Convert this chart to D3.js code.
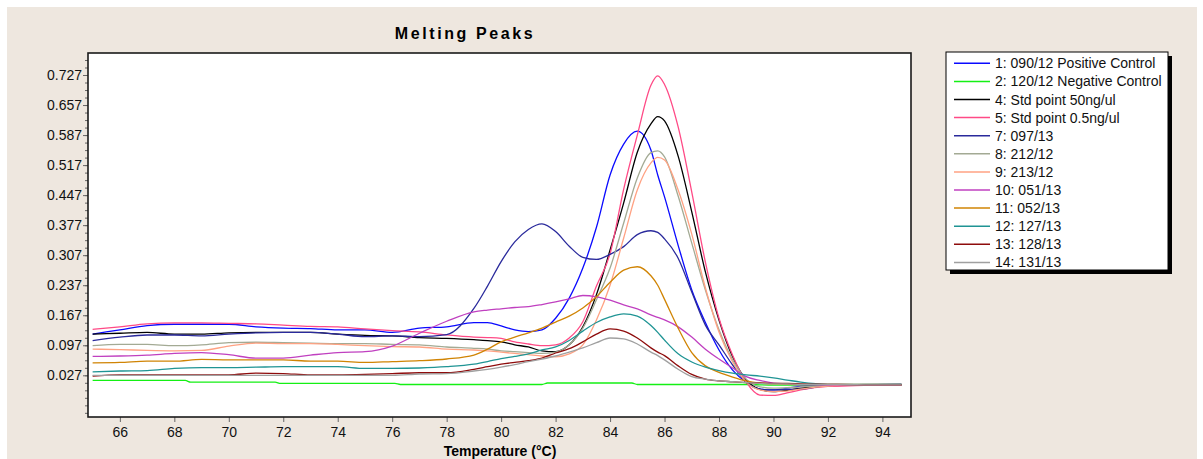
<!DOCTYPE html>
<html>
<head>
<meta charset="utf-8">
<script src="https://d3js.org/d3.v7.min.js"></script>
<style>
  body { margin: 0; background: #fff; font-family: 'Liberation Sans', Arial, sans-serif; }
</style>
</head>
<body>
<div class="middle"></div>
<script>
// temperatures shared by the sample curves
const temps = [65, 66, 67, 68, 69, 70, 71, 72, 73, 74, 75, 76, 77, 78,
  79, 79.5, 80, 80.5, 81, 81.5, 82, 82.5, 83, 83.5, 84, 84.5, 85, 85.5,
  85.75, 86, 86.5, 87, 87.5, 88, 88.5, 89, 89.5, 90, 90.5,
  91, 92, 93, 94.7]

const posControl = [.123, .133, .143, .146, .146, .146, .140, .137, .136, .133, .133, .127, .137, .140,
  .150, .150, .142, .133, .129, .133, .160, .207, .277, .372, .494, .566, .596, .552,
  .494, .443, .330, .226, .150, .086, .039, .011, -.005, -.007, -.003,
  .002, .0045, .005, .0056]

// negative control is a stepped line, it has its own temperatures
const negTemps = [65, 68.4, 68.6, 71.7, 71.9, 76.1, 76.3, 81.5, 81.7, 84.8, 85.0, 89.0, 90.0, 94.7]
const negControl = [.015, .015, .011, .011, .008, .008, .0056, .0056, .009, .009, .0056, .0056, .004, .004]

const std50 = [.123, .125, .127, .123, .123, .126, .127, .127, .127, .123, .120, .119, .115, .113,
  .110, .108, .105, .098, .093, .084, .082, .098, .140, .215, .319, .429, .547, .613,
  .630, .620, .538, .408, .268, .156, .070, .016, -.006, -.011, -.008,
  -.003, .002, .004, .0045]

const std05 = [.134, .140, .147, .149, .149, .148, .147, .144, .141, .140, .135, .131, .128, .121,
  .116, .115, .113, .105, .100, .096, .098, .114, .152, .235, .310, .461, .587, .703,
  .725, .705, .606, .454, .291, .160, .074, .011, -.019, -.020, -.014,
  -.007, .001, .003, .0045]

const s097_13 = [.108, .116, .121, .121, .119, .123, .126, .127, .127, .123, .117, .119, .117, .122,
  .183, .235, .292, .338, .367, .380, .362, .328, .302, .297, .309, .327, .355, .364,
  .360, .345, .300, .221, .144, .098, .051, .011, -.005, -.007, -.006,
  -.005, .003, .005, .006]

const s212_12 = [.096, .099, .099, .096, .098, .103, .104, .103, .102, .101, .101, .099, .098, .093,
  .090, .088, .084, .082, .080, .078, .081, .098, .137, .203, .277, .382, .487, .546,
  .550, .536, .445, .335, .226, .133, .063, .018, .000, -.003, -.002,
  .000, .003, .005, .0056]

const s213_12 = [.088, .087, .085, .084, .085, .095, .102, .101, .101, .099, .096, .094, .093, .088,
  .086, .084, .081, .078, .075, .072, .070, .077, .098, .156, .237, .347, .459, .522,
  .535, .529, .459, .356, .231, .128, .058, .011, -.007, -.011, -.010,
  -.005, .002, .004, .0045]

const s051_13 = [.071, .072, .074, .078, .080, .075, .067, .067, .074, .080, .082, .095, .125, .153,
  .175, .179, .182, .185, .187, .192, .198, .205, .213, .210, .202, .191, .182, .168,
  .162, .156, .140, .116, .088, .065, .044, .024, .015, .009, .007,
  .0045, .0045, .0045, .0045]

const s052_13 = [.056, .057, .060, .060, .064, .063, .063, .063, .060, .060, .057, .059, .061, .065,
  .074, .088, .105, .116, .126, .137, .151, .165, .184, .210, .244, .272, .280, .259,
  .237, .204, .137, .080, .049, .034, .023, .014, .009, .007, .007,
  .006, .006, .006, .006]

const s127_13 = [.035, .037, .038, .043, .045, .045, .046, .047, .047, .047, .043, .043, .044, .047,
  .053, .059, .066, .071, .077, .086, .093, .108, .130, .150, .163, .170, .165, .143,
  .127, .109, .077, .058, .046, .038, .032, .028, .025, .021, .016,
  .011, .006, .006, .006]

const s128_13 = [.025, .028, .028, .028, .028, .028, .032, .031, .028, .028, .029, .031, .033, .033,
  .041, .047, .053, .057, .061, .067, .079, .089, .105, .123, .135, .130, .114, .091,
  .081, .073, .049, .029, .018, .014, .012, .010, .009, .008, .008,
  .007, .006, .005, .0045]

const s131_13 = [.027, .027, .027, .027, .027, .027, .027, .027, .027, .027, .027, .027, .030, .031,
  .037, .041, .046, .052, .059, .065, .072, .081, .091, .103, .114, .112, .100, .081,
  .073, .063, .041, .024, .018, .014, .012, .010, .008, .007, .007,
  .006, .006, .005, .0045]

const seriesNames = ['1: 090/12 Positive Control', '2: 120/12 Negative Control', '4: Std point 50ng/ul',
  '5: Std point 0.5ng/ul', '7: 097/13', '8: 212/12', '9: 213/12', '10: 051/13', '11: 052/13',
  '12: 127/13', '13: 128/13', '14: 131/13']
const seriesValues = [posControl, negControl, std50, std05, s097_13, s212_12, s213_12,
  s051_13, s052_13, s127_13, s128_13, s131_13]
const seriesTemps = [temps, negTemps, temps, temps, temps, temps, temps, temps, temps, temps, temps, temps]
const colors = ['#0a0aff', '#14f014', '#000000', '#ff4a86', '#2a2a9c', '#a3aa94', '#ffa283',
  '#c040c0', '#d08404', '#1f9494', '#8e0c0c', '#a0a0a0']

const yTicks = d3.range(0, 11).map(k => 0.027 + 0.07 * k)
const xTicks = d3.range(66, 95, 2)

function displayMeltChart() {
  const svg = d3.select('.middle')
    .append('svg')
    .attr('width', 1203)
    .attr('height', 459)

  // beige panel
  svg.append('rect')
    .attr('x', 7).attr('y', 7)
    .attr('width', 1190).attr('height', 452)
    .style('fill', '#eee7df')

  const left = 88, top = 53, right = 911, bottom = 417

  const x = d3.scaleLinear().domain([64.83, 95.05]).range([left, right])
  const y = d3.scaleLinear().domain([-0.0702, 0.7783]).range([bottom, top])

  svg.append('rect')
    .attr('x', left).attr('y', top)
    .attr('width', right - left).attr('height', bottom - top)
    .style('fill', '#fff')

  svg.append('clipPath').attr('id', 'plotclip')
    .append('rect')
    .attr('x', left).attr('y', top)
    .attr('width', right - left).attr('height', bottom - top)

  // minor y ticks
  const minor = d3.range(-5, 44).map(k => 0.027 + 0.0175 * k).filter(v => v > y.domain()[0] && v < y.domain()[1])
  svg.append('g')
    .attr('transform', `translate(${left},0)`)
    .call(d3.axisLeft(y).tickValues(minor).tickSize(3).tickFormat(''))
    .call(g => g.select('.domain').remove())
    .call(g => g.selectAll('line').style('stroke', '#666'))

  svg.append('g')
    .attr('transform', `translate(${left},0)`)
    .call(d3.axisLeft(y).tickValues(yTicks).tickSize(5).tickPadding(1).tickFormat(d3.format('.3f')))
    .call(g => g.select('.domain').remove())
    .call(g => g.selectAll('line').style('stroke', '#666'))
    .call(g => g.selectAll('text')
      .style('font-family', "'Liberation Sans', Arial, sans-serif")
      .style('font-size', '14px').style('fill', '#111'))

  svg.append('g')
    .attr('transform', `translate(0,${bottom})`)
    .call(d3.axisBottom(x).tickValues(xTicks).tickSize(5).tickPadding(5))
    .call(g => g.select('.domain').remove())
    .call(g => g.selectAll('line').style('stroke', '#666'))
    .call(g => g.selectAll('text')
      .style('font-family', "'Liberation Sans', Arial, sans-serif")
      .style('font-size', '14px').style('fill', '#111'))

  const line = d3.line()
    .x(d => x(d[0]))
    .y(d => y(d[1]))
    .curve(d3.curveMonotoneX)

  svg.append('g')
    .attr('clip-path', 'url(#plotclip)')
    .selectAll('path')
    .data(seriesValues)
    .enter()
    .append('path')
      .attr('d', (vals, i) => line(vals.map((v, j) => [seriesTemps[i][j], v])))
      .style('fill', 'none')
      .style('stroke', (d, i) => colors[i])
      .style('stroke-width', '1.3px')

  // frame on top
  svg.append('rect')
    .attr('x', left).attr('y', top)
    .attr('width', right - left).attr('height', bottom - top)
    .style('fill', 'none')
    .style('stroke', '#1a1a1a')
    .style('stroke-width', '1.6px')

  svg.append('text')
    .attr('x', 465).attr('y', 39)
    .attr('text-anchor', 'middle')
    .style('font-family', "'Liberation Sans', Arial, sans-serif")
    .style('font-weight', 'bold')
    .style('font-size', '16px')
    .style('letter-spacing', '2.6px')
    .text('Melting Peaks')

  svg.append('text')
    .attr('x', 500).attr('y', 456)
    .attr('text-anchor', 'middle')
    .style('font-family', "'Liberation Sans', Arial, sans-serif")
    .style('font-weight', 'bold')
    .style('font-size', '14px')
    .text('Temperature (°C)')

  // legend with drop shadow
  const legend = svg.append('g')
  legend.append('rect')
    .attr('x', 950).attr('y', 56)
    .attr('width', 222).attr('height', 218)
    .style('fill', '#000')
  legend.append('rect')
    .attr('x', 946).attr('y', 52)
    .attr('width', 222).attr('height', 218)
    .style('fill', '#fff')
    .style('stroke', '#000')
    .style('stroke-width', '1px')

  const items = legend.selectAll('.item')
    .data(seriesNames)
    .enter()
    .append('g')
    .attr('transform', (d, i) => `translate(0,${63.3 + i * 18.1})`)

  items.append('line')
    .attr('x1', 954).attr('x2', 990)
    .style('stroke', (d, i) => colors[i])
    .style('stroke-width', '1.5px')

  items.append('text')
    .attr('x', 995).attr('y', 5)
    .style('font-family', "'Liberation Sans', Arial, sans-serif")
    .style('font-size', '14px')
    .style('fill', '#111')
    .text(d => d)
}

displayMeltChart()
</script>
</body>
</html>
